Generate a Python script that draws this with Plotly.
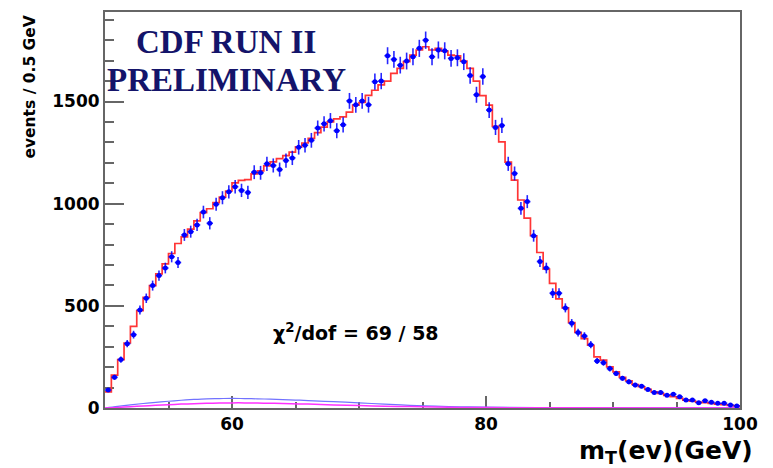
import numpy as np
import plotly.graph_objects as go

# ---------------- data ----------------
bin_lo = 50.0
bin_width = 0.5

data_counts = [
    88, 150, 237, 315, 359, 480, 537, 599, 648, 685,
    740, 712, 847, 863, 896, 959, 904, 997, 1029, 1058,
    1083, 1065, 1055, 1154, 1151, 1195, 1187, 1167, 1211, 1224,
    1276, 1286, 1310, 1370, 1391, 1406, 1357, 1386, 1503, 1484,
    1503, 1484, 1597, 1600, 1724, 1706, 1678, 1698, 1719, 1760,
    1800, 1719, 1752, 1748, 1711, 1714, 1695, 1627, 1533, 1622,
    1458, 1373, 1383, 1195, 1148, 977, 1010, 843, 717, 685,
    562, 562, 490, 415, 369, 352, 310, 230, 222, 193,
    169, 145, 128, 112, 107, 91, 76, 76, 63, 67,
    55, 39, 39, 26, 36, 28, 23, 23, 15, 10,
]

fit_counts = [
    79, 161, 237, 318, 399, 477, 542, 599, 656, 705,
    756, 805, 837, 875, 916, 956, 975, 1005, 1032, 1062,
    1102, 1114, 1118, 1146, 1160, 1185, 1205, 1220, 1235, 1252,
    1278, 1297, 1320, 1348, 1375, 1400, 1415, 1425, 1448, 1482,
    1495, 1530, 1555, 1581, 1600, 1638, 1662, 1695, 1727, 1752,
    1768, 1752, 1760, 1747, 1727, 1724, 1698, 1662, 1600, 1529,
    1482, 1378, 1302, 1203, 1115, 1018, 929, 843, 761, 680,
    610, 534, 490, 418, 370, 340, 307, 250, 234, 201,
    177, 150, 133, 115, 104, 91, 79, 71, 62, 55,
    47, 39, 34, 29, 26, 23, 19, 16, 13, 10,
]

bkg_blue_x = [50, 51, 52, 53, 54, 55, 56, 57, 58, 59, 60, 61, 62, 63, 64, 65,
              66, 68, 70, 72, 74, 76, 78, 80, 84, 90, 100]
bkg_blue_y = [0, 8, 15, 22, 28, 33, 38, 42, 45, 46, 47, 46, 45, 43, 41, 39,
              36, 31, 25, 19, 13, 9, 6, 4, 2, 1, 0.5]

bkg_mag_x = [50, 51, 52, 53, 54, 55, 56, 57, 58, 59, 60, 61, 62, 63, 64,
             66, 68, 70, 72, 74, 76, 78, 80, 85, 100]
bkg_mag_y = [0, 3, 6, 10, 13, 16, 19, 21, 23, 24, 25, 25, 24, 23, 22,
             19, 15, 12, 9, 7, 5, 3, 2, 1, 0.5]

x_tick_vals = [60, 80, 100]
y_tick_vals = [0, 500, 1000, 1500]

# ---------------- derived positions ----------------
n_bins = len(data_counts)
centers = bin_lo + bin_width * (np.arange(n_bins) + 0.5)
edges = bin_lo + bin_width * np.arange(len(fit_counts) + 1)
fit_step = list(fit_counts) + [fit_counts[-1]]

fig = go.Figure()

fig.add_trace(go.Scatter(
    x=bkg_blue_x, y=bkg_blue_y, mode="lines", line_shape="spline",
    line=dict(color="#7272ff", width=1.2), hoverinfo="skip", showlegend=False))
fig.add_trace(go.Scatter(
    x=bkg_mag_x, y=bkg_mag_y, mode="lines", line_shape="spline",
    line=dict(color="#ff30ff", width=1.5), hoverinfo="skip", showlegend=False))

fig.add_trace(go.Scatter(
    x=edges, y=fit_step, mode="lines", line_shape="hv",
    line=dict(color="#ff3535", width=1.7), showlegend=False))

fig.add_trace(go.Scatter(
    x=centers, y=data_counts, mode="markers",
    marker=dict(color="#0000ff", size=5, symbol="circle"),
    error_y=dict(type="sqrt", color="rgba(0,0,255,0.85)", thickness=1.6, width=0),
    error_x=dict(type="constant", value=bin_width / 2, color="rgba(0,0,255,0.85)",
                 thickness=1.6, width=0),
    showlegend=False))

sans = "DejaVu Sans"
axis_col = "#666666"

fig.update_layout(
    width=773, height=468,
    margin=dict(l=105, r=33, t=10, b=60),
    paper_bgcolor="white", plot_bgcolor="white",
    xaxis=dict(
        range=[50, 100], tickvals=x_tick_vals, ticks="inside", ticklen=12,
        tickwidth=1.5, tickcolor=axis_col,
        minor=dict(dtick=5, tick0=50, ticks="inside", ticklen=6, tickwidth=1.5,
                   tickcolor=axis_col, showgrid=False),
        showgrid=False, zeroline=False, showline=True, mirror=True,
        linecolor=axis_col, linewidth=2, layer="below traces",
        tickfont=dict(family=sans, size=17, color="black", weight="bold"),
    ),
    yaxis=dict(
        range=[0, 1938], tickvals=y_tick_vals, ticks="inside", ticklen=19,
        tickwidth=1.5, tickcolor=axis_col,
        minor=dict(dtick=100, tick0=0, ticks="inside", ticklen=9, tickwidth=1.5,
                   tickcolor=axis_col, showgrid=False),
        showgrid=False, zeroline=False, showline=True, mirror=True,
        linecolor=axis_col, linewidth=2, layer="below traces",
        tickfont=dict(family=sans, size=17, color="black", weight="bold"),
    ),
)

navy = "#14146a"
serif = "Liberation Serif"
fig.add_annotation(text="CDF RUN II", xref="paper", yref="paper", x=0.191, y=0.923,
                   xanchor="center", yanchor="middle", showarrow=False,
                   font=dict(family=serif, size=33, color=navy, weight="bold"))
fig.add_annotation(text="PRELIMINARY", xref="paper", yref="paper", x=0.192, y=0.828,
                   xanchor="center", yanchor="middle", showarrow=False,
                   font=dict(family=serif, size=33, color=navy, weight="bold"))
fig.add_annotation(text="χ<sup>2</sup>/dof = 69 / 58", xref="paper", yref="paper",
                   x=0.395, y=0.193, xanchor="center", yanchor="middle", showarrow=False,
                   font=dict(family=sans, size=19, color="black", weight="bold"))
fig.add_annotation(text="events / 0.5 GeV", xref="paper", yref="paper",
                   x=-0.118, y=0.995, xanchor="center", yanchor="top", textangle=-90,
                   showarrow=False,
                   font=dict(family=sans, size=15.5, color="black", weight="bold"))
fig.add_annotation(text="m<sub>T</sub>(ev)(GeV)", xref="paper", yref="paper",
                   x=1.0236, y=-0.1106, xanchor="right", yanchor="middle",
                   showarrow=False,
                   font=dict(family=sans, size=25, color="black", weight="bold"))

fig.write_html("out.html")
